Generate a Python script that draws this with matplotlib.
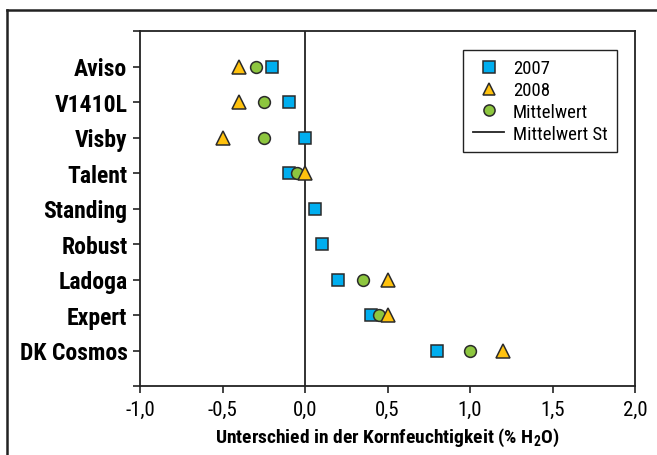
import numpy as np
import matplotlib.pyplot as plt
from matplotlib.lines import Line2D

sorten = ['Aviso', 'V1410L', 'Visby', 'Talent', 'Standing',
          'Robust', 'Ladoga', 'Expert', 'DK Cosmos']
werte_2007 = [-0.20, -0.10, 0.00, -0.10, 0.06, 0.10, 0.20, 0.40, 0.80]
werte_2008 = [-0.40, -0.40, -0.50, 0.00, np.nan, np.nan, 0.50, 0.50, 1.20]
mittelwert = [-0.30, -0.25, -0.25, -0.05, np.nan, np.nan, 0.35, 0.45, 1.00]
mittelwert_st = 0.0

schrift = ['Roboto Condensed', 'Liberation Sans Narrow', 'DejaVu Sans']
plt.rcParams['font.family'] = schrift
plt.rcParams['mathtext.fontset'] = 'custom'
plt.rcParams['mathtext.rm'] = 'Roboto Condensed:bold'
plt.rcParams['mathtext.bf'] = 'Roboto Condensed:bold'

fig = plt.figure(figsize=(6.57, 4.56), dpi=100)
ax = fig.add_axes([140 / 657, 1 - 387 / 456, 495 / 657, 355 / 456])

# aeusserer Rahmen (nur oben und links sichtbar)
fig.add_artist(Line2D([7 / 657, 7 / 657], [0, 1 - 11 / 456], color='#222222', lw=1.8,
                      transform=fig.transFigure))
fig.add_artist(Line2D([7 / 657, 1], [1 - 11 / 456, 1 - 11 / 456], color='#222222', lw=1.8,
                      transform=fig.transFigure))

y = np.arange(1, len(sorten) + 1)
ec = '#2a2a2a'

ax.axvline(mittelwert_st, color='#222222', lw=1.3, zorder=1)
ax.plot(werte_2007, y, 's', ms=8.5, mfc='#00AEEF', mec=ec, mew=1.1, ls='none', zorder=3)
ax.plot(mittelwert, y, 'o', ms=8.5, mfc='#8DC63F', mec=ec, mew=1.1, ls='none', zorder=4)
ax.plot(werte_2008, y, '^', ms=10, mfc='#FFC20E', mec=ec, mew=1.1, ls='none', zorder=5)

ax.set_xlim(-1, 2)
ax.set_ylim(10, 0)
ticks = np.arange(-1, 2.01, 0.5)
ax.set_xticks(ticks)
ax.set_xticklabels([f'{v:.1f}'.replace('.', ',') for v in ticks], fontsize=15)
ax.set_yticks(np.arange(0, 11))
ax.set_yticklabels([''] + sorten + [''], fontsize=17, fontweight='bold')
ax.tick_params(direction='out', length=5, width=1.2, color='#222222', pad=4)
ax.tick_params(axis='x', pad=5)
for s in ax.spines.values():
    s.set_linewidth(1.3)
    s.set_color('#222222')

ax.set_xlabel(r'Unterschied in der Kornfeuchtigkeit (% H$_\mathrm{2}$O)',
              fontsize=14, fontweight='bold', labelpad=5)

handles = [
    Line2D([], [], marker='s', ls='none', ms=8, mfc='#00AEEF', mec=ec, mew=1.1),
    Line2D([], [], marker='^', ls='none', ms=9, mfc='#FFC20E', mec=ec, mew=1.1),
    Line2D([], [], marker='o', ls='none', ms=8, mfc='#8DC63F', mec=ec, mew=1.1),
    Line2D([], [], color='#222222', lw=1.3),
]
leg = ax.legend(handles, ['2007', '2008', 'Mittelwert', 'Mittelwert St'],
                loc='upper right', bbox_to_anchor=((617 - 140) / 495, (387 - 51) / 355),
                borderaxespad=0, fontsize=13.5,
                fancybox=False, framealpha=1, edgecolor='#222222',
                handlelength=1.7, handletextpad=0.45, labelspacing=0.2,
                borderpad=0.5)
leg.get_frame().set_linewidth(1.0)

fig.savefig('out.png', dpi=100)
